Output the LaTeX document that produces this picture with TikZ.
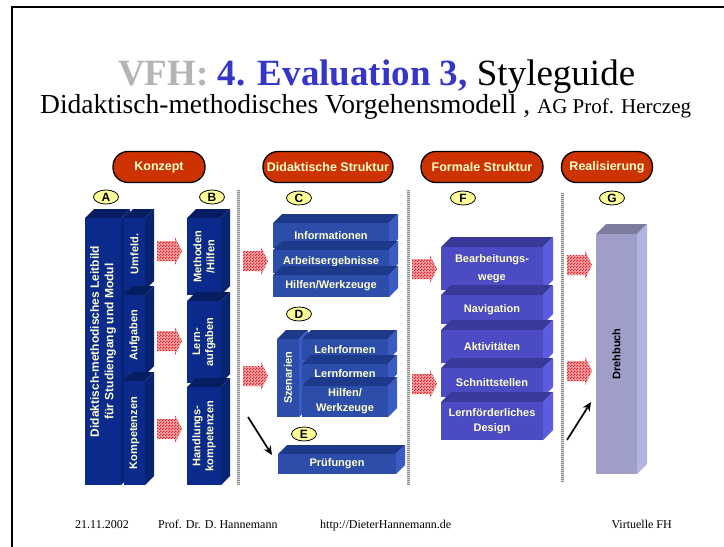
\documentclass[tikz,border=0pt]{standalone}
\usepackage{fontspec}
\setmainfont{Liberation Serif}
\newfontfamily\sansf{Liberation Sans}
\usetikzlibrary{patterns,shapes.geometric,arrows.meta}
\definecolor{vfhgray}{HTML}{B4B4B4}
\definecolor{titleblue}{HTML}{3535C8}
\definecolor{pillred}{HTML}{CC3300}
\definecolor{cream}{HTML}{FFFFCC}
\definecolor{ovalyellow}{HTML}{FFFF99}
\definecolor{Afront}{HTML}{0B2B8C}
\definecolor{Atop}{HTML}{061D62}
\definecolor{Aside}{HTML}{092373}
\colorlet{Atext}{cream}
\definecolor{Cfront}{HTML}{2C4DAA}
\definecolor{Ctop}{HTML}{1D3A8A}
\definecolor{Cside}{HTML}{3A5BC4}
\colorlet{Ctext}{cream}
\definecolor{Ffront}{HTML}{4B4BC3}
\definecolor{Ftop}{HTML}{393999}
\definecolor{Fside}{HTML}{5C5CE0}
\colorlet{Ftext}{cream}
\definecolor{Gfront}{HTML}{9E9EC8}
\definecolor{Gtop}{HTML}{7C7C9C}
\definecolor{Gside}{HTML}{B3B3E3}
\colorlet{Gtext}{black}
\definecolor{arrowred}{HTML}{E0202C}
\definecolor{arrowpink}{HTML}{F4A8A8}

\pgfdeclarepatternformonly{finecheck}{\pgfpointorigin}{\pgfqpoint{3pt}{3pt}}{\pgfqpoint{3pt}{3pt}}{%
  \pgfpathrectangle{\pgfpointorigin}{\pgfqpoint{1.5pt}{1.5pt}}%
  \pgfpathrectangle{\pgfqpoint{1.5pt}{1.5pt}}{\pgfqpoint{1.5pt}{1.5pt}}%
  \pgfusepath{fill}}

% #1 name, #2 x, #3 y, #4 w, #5 h, #6 depth, #7 colour prefix, #8 rotation, #9 text
\newcommand{\tdbox}[9]{%
  \fill[#7top] (#2,#3) -- ++(#6,-#6) -- ++(#4,0) -- ++(-#6,#6) -- cycle;
  \fill[#7side] (#2+#4,#3) -- ++(#6,-#6) -- ++(0,#5) -- ++(-#6,#6) -- cycle;
  \node[fill=#7front, minimum width=#4pt, minimum height=#5pt, anchor=north west,
        inner sep=0pt, outer sep=0pt] (#1) at (#2,#3) {};
  \node[boxtext, text=#7text, rotate=#8] (#1-t) at (#1.center) {#9};
}
% red hatched block arrow: #1 x, #2 y centre
\newcommand{\redarrow}[2]{%
  \fill[redpat] (#1,#2-10) -- (#1+18,#2-10) -- (#1+18,#2-14) -- (#1+25,#2)
     -- (#1+18,#2+14) -- (#1+18,#2+10) -- (#1,#2+10) -- cycle;
}
\tikzset{
  boxtext/.style={font=\sansf\bfseries\fontsize{11}{13}\selectfont, align=center, inner sep=0pt},
  pill/.style={draw=black, line width=1.3pt, fill=pillred, rounded corners=15pt,
     minimum height=31pt, inner sep=0pt, text=cream,
     font=\sansf\bfseries\fontsize{12.5}{14}\selectfont},
  oval/.style={ellipse, draw=black, line width=0.8pt, fill=ovalyellow, minimum width=25pt,
     minimum height=14pt, inner sep=0pt, font=\sansf\bfseries\fontsize{12}{13}\selectfont},
  redpat/.style={preaction={fill=arrowpink}, pattern=finecheck, pattern color=arrowred},
  sepbg/.style={line width=3pt, color=black!15},
  sepfg/.style={line width=3pt, color=black!45, dash pattern=on 1pt off 1pt},
  blkarrow/.style={line width=1.7pt, -{Stealth[length=9pt,width=8pt]}},
  foot/.style={inner sep=0pt, font=\fontsize{12}{14}\selectfont}
}
\begin{document}
\begin{tikzpicture}[x=1pt,y=-1pt]
\useasboundingbox (0,0) rectangle (724,547);
% frame
\draw[line width=2.5pt] (12,547) -- (12,7) -- (724,7);
% title
\node[anchor=base west, inner sep=0pt, font=\fontsize{37}{44}\selectfont] (title) at (118,85)
  {{\bfseries\color{vfhgray}VFH:} {\bfseries\color{titleblue}4. Evaluation 3,} Styleguide};
\node[anchor=base west, inner sep=0pt, font=\fontsize{27.5}{32}\selectfont] (st) at (40,113)
  {Didaktisch-methodisches Vorgehensmodell , {\fontsize{21}{24}\selectfont AG Prof. Herczeg}};
% headers
\node[pill, minimum width=92pt] (h1) at (159,167) {Konzept};
\node[pill, minimum width=130pt] (h2) at (328,167) {Didaktische Struktur};
\node[pill, minimum width=122pt] (h3) at (482,167) {Formale Struktur};
\node[pill, minimum width=91pt] (h4) at (607,167) {Realisierung};
% letters
\node[oval] (oA) at (106,197) {A};
\node[oval] (oB) at (212,197) {B};
\node[oval] (oC) at (299,198) {C};
\node[oval] (oD) at (299,314) {D};
\node[oval] (oE) at (304,434) {E};
\node[oval] (oF) at (463,198) {F};
\node[oval] (oG) at (612,198) {G};
% separators
\foreach \sx/\sy/\ey in {238/190/485, 408/190/485, 562/193/482}{
  \draw[sepbg] (\sx,\sy) -- (\sx,\ey);
  \draw[sepfg] (\sx,\sy) -- (\sx,\ey);
}
% column A
\tdbox{lb}{85}{218}{36}{267}{9}{A}{90}{}
\node[boxtext, text=cream, rotate=90, font=\sansf\bfseries\fontsize{12}{14.5}\selectfont] (lb-txt) at ([yshift=10pt]lb.center) {Didaktisch-methodisches Leitbild\\für Studiengang und Modul};
\tdbox{um}{124}{218}{21}{72}{9}{A}{90}{Umfeld.}
\tdbox{au}{124}{295}{21}{80}{9}{A}{90}{Aufgaben}
\tdbox{ko}{124}{381}{21}{104}{9}{A}{90}{Kompetenzen}
% column B
\tdbox{mh}{187}{218}{34}{77}{9}{A}{90}{Methoden\\/Hilfen}
\tdbox{la}{187}{301}{34}{82}{9}{A}{90}{Lern-\\aufgaben}
\tdbox{hk}{187}{387}{34}{98}{9}{A}{90}{Handlungs-\\kompetenzen}
% column C
\tdbox{inf}{273}{223}{116}{25}{9}{C}{0}{Informationen}
\tdbox{ae}{273}{250}{116}{23}{9}{C}{0}{Arbeitsergebnisse}
\tdbox{hw}{273}{275}{116}{22}{9}{C}{0}{Hilfen/Werkzeuge}
% column D
\tdbox{sz}{277}{339}{22}{78}{9}{C}{90}{Szenarien}
\tdbox{lf}{302}{339}{86}{21}{9}{C}{0}{Lehrformen}
\tdbox{ln}{302}{364}{86}{19}{9}{C}{0}{Lernformen}
\tdbox{hw2}{302}{386}{86}{31}{9}{C}{0}{Hilfen/\\[2pt]Werkzeuge}
% column E
\tdbox{pr}{278}{454}{118}{20}{9}{C}{0}{Prüfungen}
% column F
\tdbox{bw}{441}{247}{102}{43}{10}{F}{0}{Bearbeitungs-\\[5pt]wege}
\tdbox{na}{441}{295}{102}{29}{10}{F}{0}{Navigation}
\tdbox{ak}{441}{330}{102}{33}{10}{F}{0}{Aktivitäten}
\tdbox{sn}{441}{368}{102}{29}{10}{F}{0}{Schnittstellen}
\tdbox{ld}{441}{402}{102}{38}{10}{F}{0}{Lernförderliches\\[2pt]Design}
% column G
\tdbox{db}{596}{234}{41}{240}{10}{G}{90}{Drehbuch}
% red arrows
\redarrow{157}{251}
\redarrow{157}{341}
\redarrow{157}{429}
\redarrow{243}{261}
\redarrow{243}{376}
\redarrow{412}{269}
\redarrow{412}{384}
\redarrow{567}{265}
\redarrow{567}{371}
% black arrows
\coordinate (b1s) at (248,417);
\coordinate (b1e) at (272,455);
\draw[blkarrow] (b1s) -- (b1e);
\coordinate (b2s) at (567,440);
\coordinate (b2e) at (591,402);
\draw[blkarrow] (b2s) -- (b2e);
% footer
\node[foot, anchor=base west] (f1) at (75,528) {21.11.2002};
\node[foot, anchor=base west] (f2) at (158,528) {Prof. Dr. D. Hannemann};
\node[foot, anchor=base west] (f3) at (320,528) {http://DieterHannemann.de};
\node[foot, anchor=base east] (f4) at (672,528) {Virtuelle FH};
\end{tikzpicture}
\end{document}
